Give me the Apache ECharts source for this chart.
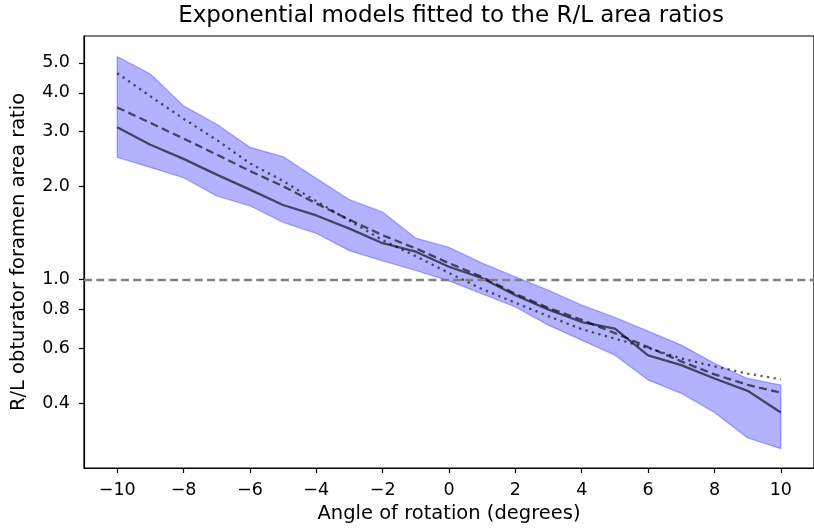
<!DOCTYPE html>
<html>
<head>
<meta charset="utf-8">
<script src="https://cdn.jsdelivr.net/npm/echarts@6/dist/echarts.min.js"></script>
<style>
  html, body { margin: 0; padding: 0; background: #fff; }
  #chart { width: 814px; height: 530px; }
</style>
</head>
<body>
<div id="chart"></div>
<script>
// angle of rotation (degrees)
var angles = [-10, -9, -8, -7, -6, -5, -4, -3, -2, -1, 0, 1, 2, 3, 4, 5, 6, 7, 8, 9, 10];
// observed R/L ratio (solid) and its band
var ratioMean  = [3.10, 2.72, 2.45, 2.18, 1.95, 1.74, 1.61, 1.46, 1.31, 1.23, 1.10, 1.01, 0.89, 0.80, 0.73, 0.695, 0.57, 0.53, 0.48, 0.438, 0.373];
var bandUpper  = [5.24, 4.60, 3.63, 3.17, 2.67, 2.49, 2.12, 1.81, 1.65, 1.36, 1.27, 1.13, 1.02, 0.924, 0.827, 0.755, 0.682, 0.615, 0.537, 0.48, 0.457];
var bandLower  = [2.48, 2.30, 2.13, 1.86, 1.73, 1.53, 1.41, 1.24, 1.15, 1.07, 0.99, 0.90, 0.816, 0.713, 0.638, 0.571, 0.475, 0.43, 0.373, 0.309, 0.285];
// fitted exponential models
var fitDashed  = [3.59, 3.20, 2.85, 2.53, 2.24, 2.00, 1.76, 1.56, 1.39, 1.26, 1.13, 1.02, 0.90, 0.81, 0.742, 0.672, 0.606, 0.545, 0.495, 0.458, 0.432];
var fitDotted  = [4.63, 3.90, 3.30, 2.82, 2.37, 2.08, 1.79, 1.55, 1.34, 1.19, 1.05, 0.932, 0.842, 0.762, 0.692, 0.645, 0.602, 0.557, 0.525, 0.498, 0.477];
var refLine = 1.0;
// ticks
var xTicks = [-10, -8, -6, -4, -2, 0, 2, 4, 6, 8, 10];
var yMajor = [0.4, 0.6, 0.8, 1.0, 2.0, 3.0, 4.0, 5.0];
var yMinor = [0.3, 0.5, 0.7, 0.9, 6.0];

var FONT = 'DejaVu Sans';
var lineColor = 'rgba(0,0,0,0.62)';

function pairs(ys) {
    return angles.map(function (a, i) { return [a, ys[i]]; });
}

var chart = echarts.init(document.getElementById('chart'), null, { renderer: 'canvas' });

var yBase = {
    type: 'log',
    min: 0.247,
    max: 6.1,
    splitLine: { show: false },
    axisLine: { show: true, onZero: false, lineStyle: { color: '#000', width: 1.2 } }
};

var option = {
    animation: false,
    backgroundColor: '#fff',
    title: {
        text: 'Exponential models fitted to the R/L area ratios',
        left: 446,
        top: 0,
        textAlign: 'center',
        textStyle: { fontFamily: FONT, fontSize: 23, fontWeight: 'normal', color: '#000' }
    },
    grid: {
        left: 84, top: 36, width: 734, height: 432,
        show: true, borderColor: '#000', borderWidth: 1.2, backgroundColor: 'transparent'
    },
    xAxis: {
        type: 'value',
        min: -11,
        max: 11,
        name: 'Angle of rotation (degrees)',
        nameLocation: 'middle',
        nameGap: 36,
        nameTextStyle: { fontFamily: FONT, fontSize: 19.5, color: '#000' },
        splitLine: { show: false },
        axisLine: { show: true, onZero: false, lineStyle: { color: '#000', width: 1.2 } },
        axisTick: { show: true, length: 5, lineStyle: { color: '#000', width: 1.2 }, customValues: xTicks },
        axisLabel: {
            customValues: xTicks,
            margin: 13,
            fontFamily: FONT, fontSize: 17.5, color: '#000',
            formatter: function (v) { return String(v).replace('-', '\u2212'); }
        }
    },
    yAxis: [
        Object.assign({}, yBase, {
            name: 'R/L obturator foramen area ratio',
            nameLocation: 'middle',
            nameGap: 55,
            nameTextStyle: { fontFamily: FONT, fontSize: 19.5, color: '#000' },
            axisTick: { show: true, length: 5, lineStyle: { color: '#000', width: 1.2 }, customValues: yMajor },
            axisLabel: {
                customValues: yMajor,
                margin: 14,
                fontFamily: FONT, fontSize: 17.5, color: '#000',
                formatter: function (v) { return Number(v).toFixed(1); }
            }
        }),
        Object.assign({}, yBase, {
            axisTick: { show: true, length: 3, lineStyle: { color: '#000', width: 0.9 }, customValues: yMinor },
            axisLabel: { show: false }
        })
    ],
    series: [
        {
            type: 'custom',
            name: 'band',
            clip: true,
            z: 1,
            data: [[angles[0], bandUpper[0]]],
            renderItem: function (params, api) {
                var pts = [];
                for (var i = 0; i < angles.length; i++) pts.push(api.coord([angles[i], bandUpper[i]]));
                for (var j = angles.length - 1; j >= 0; j--) pts.push(api.coord([angles[j], bandLower[j]]));
                return {
                    type: 'polygon',
                    shape: { points: pts },
                    style: { fill: 'rgba(0,0,255,0.3)', stroke: 'rgba(0,0,255,0.3)', lineWidth: 1.3 }
                };
            }
        },
        {
            type: 'line', name: 'mean', data: pairs(ratioMean), symbol: 'none', z: 3,
            lineStyle: { color: lineColor, width: 2.3 },
            markLine: {
                silent: true, symbol: 'none', label: { show: false },
                lineStyle: { color: '#808080', width: 2.3, type: [8, 4.3] },
                data: [{ yAxis: refLine }]
            }
        },
        {
            type: 'line', name: 'fit dashed', data: pairs(fitDashed), symbol: 'none', z: 3,
            lineStyle: { color: lineColor, width: 2.3, type: [8, 4.3] }
        },
        {
            type: 'line', name: 'fit dotted', data: pairs(fitDotted), symbol: 'none', z: 3,
            lineStyle: { color: lineColor, width: 2.3, type: [2.3, 4.4] }
        }
    ]
};

chart.setOption(option);
</script>
</body>
</html>
